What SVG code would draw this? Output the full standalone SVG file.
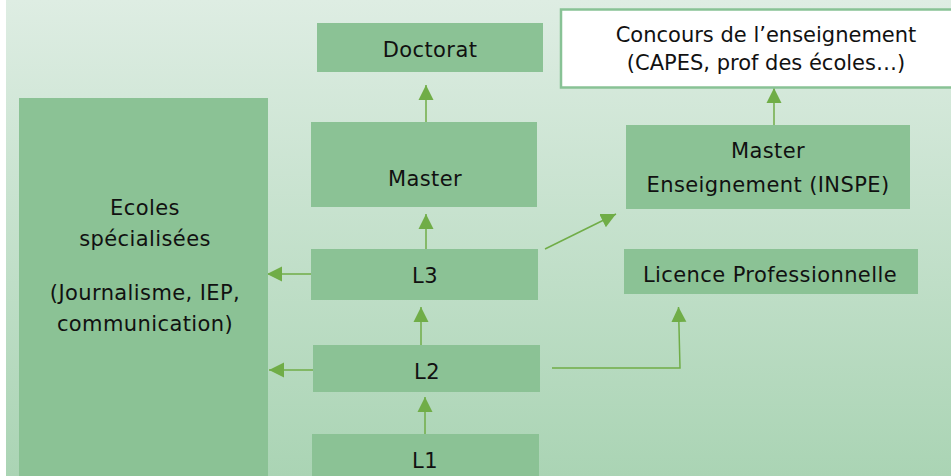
<svg xmlns="http://www.w3.org/2000/svg" width="951" height="476" viewBox="0 0 951 476">
<defs>
<linearGradient id="bg" x1="0" y1="0" x2="0" y2="1">
<stop offset="0" stop-color="#deede3"/>
<stop offset="1" stop-color="#aad4b4"/>
</linearGradient>
<marker id="ah" markerUnits="userSpaceOnUse" markerWidth="16" markerHeight="16" refX="15" refY="8" orient="auto" viewBox="0 0 16 16">
<path d="M0,0.5 L15,8 L0,15.5 z" fill="#70ad47"/>
</marker>
<style>
.box{fill:#8bc295;}
.wbox{fill:#ffffff;stroke:#88c295;stroke-width:2.5;}
.t{font-family:"DejaVu Sans","Liberation Sans",sans-serif;font-size:21px;letter-spacing:0.4px;fill:#111;text-anchor:middle;}
.tn{letter-spacing:0px;}
.c{fill:none;stroke:#70ad47;stroke-width:1.5;}
</style>
</defs>
<rect x="0" y="0" width="951" height="476" fill="#ffffff"/>
<rect x="6" y="0" width="945" height="476" fill="url(#bg)"/>

<g id="connectors">
<line class="c" x1="426" y1="122" x2="426" y2="85" marker-end="url(#ah)"/>
<line class="c" x1="426" y1="249" x2="426" y2="214" marker-end="url(#ah)"/>
<line class="c" x1="421" y1="345" x2="421" y2="307" marker-end="url(#ah)"/>
<line class="c" x1="425" y1="434" x2="425" y2="397" marker-end="url(#ah)"/>
<line class="c" x1="311" y1="274" x2="267" y2="274" marker-end="url(#ah)"/>
<line class="c" x1="313" y1="370" x2="269" y2="370" marker-end="url(#ah)"/>
<line class="c" x1="545" y1="249" x2="616" y2="214" marker-end="url(#ah)"/>
<polyline class="c" points="552,368 680,368 678.5,307" marker-end="url(#ah)"/>
<line class="c" x1="774" y1="125" x2="774" y2="88" marker-end="url(#ah)"/>
</g>

<g id="ecoles">
<rect class="box" x="19" y="98" width="249" height="378"/>
<text class="t" x="145" y="215">Ecoles</text>
<text class="t" x="145" y="246">spécialisées</text>
<text class="t" x="145" y="300">(Journalisme, IEP,</text>
<text class="t" x="145" y="331">communication)</text>
</g>

<g id="doctorat">
<rect class="box" x="317" y="23" width="226" height="49"/>
<text class="t" x="430" y="57">Doctorat</text>
</g>

<g id="master">
<rect class="box" x="311" y="122" width="226" height="85"/>
<text class="t" x="425" y="186">Master</text>
</g>

<g id="l3">
<rect class="box" x="311" y="249" width="227" height="51"/>
<text class="t" x="425" y="283">L3</text>
</g>

<g id="l2">
<rect class="box" x="313" y="345" width="227" height="47"/>
<text class="t" x="427" y="379">L2</text>
</g>

<g id="l1">
<rect class="box" x="312" y="434" width="227" height="42"/>
<text class="t" x="425" y="468">L1</text>
</g>

<g id="concours">
<rect class="wbox" x="561" y="9.5" width="400" height="78"/>
<text class="t tn" x="766" y="42">Concours de l’enseignement</text>
<text class="t tn" x="766" y="70">(CAPES, prof des écoles…)</text>
</g>

<g id="master-enseignement">
<rect class="box" x="626" y="125" width="284" height="84"/>
<text class="t" x="768" y="158">Master</text>
<text class="t" x="768" y="192">Enseignement (INSPE)</text>
</g>

<g id="licence-pro">
<rect class="box" x="624" y="249" width="294" height="45"/>
<text class="t" x="770" y="282">Licence Professionnelle</text>
</g>
</svg>
